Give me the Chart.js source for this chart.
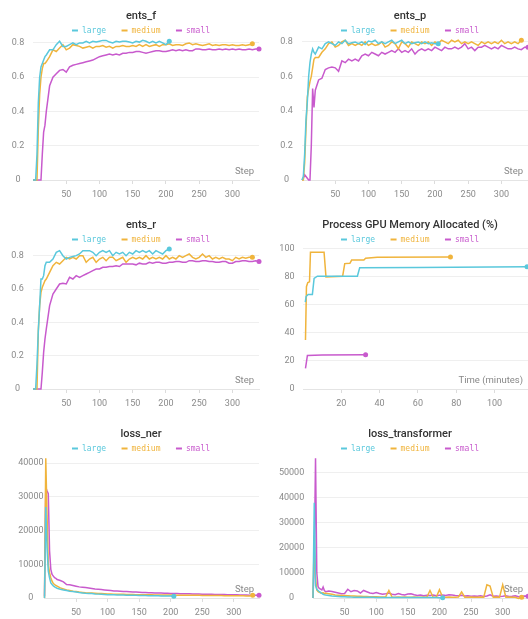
<!DOCTYPE html>
<html>
<head>
<meta charset="utf-8">
<script src="https://cdn.jsdelivr.net/npm/chart.js@4.4.1/dist/chart.umd.min.js"></script>
<style>
html, body { margin: 0; padding: 0; background: #fff; width: 528px; height: 619px; overflow: hidden; }
canvas { position: absolute; }
</style>
</head>
<body>
<canvas id="c_ents_f" width="282" height="205" style="left:0;top:0"></canvas>
<canvas id="c_ents_p" width="292" height="205" style="left:264px;top:0"></canvas>
<canvas id="c_ents_r" width="282" height="205" style="left:0;top:209px"></canvas>
<canvas id="c_gpu" width="292" height="205" style="left:264px;top:209px"></canvas>
<canvas id="c_loss_ner" width="282" height="201" style="left:0;top:418px"></canvas>
<canvas id="c_loss_tr" width="292" height="201" style="left:264px;top:418px"></canvas>
<script>
// logged steps (large stops at 205, medium at 330, small at 340)
var STEPS = [0, 2, 4, 6, 8, 10, 12, 14, 16, 18, 20, 25, 30, 35, 40, 45, 50, 55, 60, 65, 70, 75, 80, 85, 90, 95,
    100, 105, 110, 115, 120, 125, 130, 135, 140, 145, 150, 155, 160, 165, 170, 175, 180, 185, 190, 195,
    200, 205, 210, 215, 220, 225, 230, 235, 240, 245, 250, 255, 260, 265, 270, 275, 280, 285, 290, 295,
    300, 305, 310, 315, 320, 325, 330, 335, 340];

// tick labels
var STEP_TICKS = [50, 100, 150, 200, 250, 300];
var MINUTE_TICKS = [20, 40, 60, 80, 100];
var ENTS_TICKS = [0, 0.2, 0.4, 0.6, 0.8];
var GPU_TICKS = [0, 20, 40, 60, 80, 100];
var LOSS_NER_TICKS = [0, 10000, 20000, 30000, 40000];
var LOSS_TR_TICKS = [0, 10000, 20000, 30000, 40000, 50000];

var ENTS_F_LARGE = [0, 0, 0, 0.15, 0.45, 0.6, 0.66, 0.68, 0.70, 0.72, 0.73,
    0.76, 0.76, 0.79, 0.81, 0.78, 0.78, 0.79, 0.80, 0.79, 0.80,
    0.80, 0.81, 0.80, 0.81, 0.805, 0.81, 0.815, 0.815, 0.805, 0.80,
    0.81, 0.805, 0.81, 0.81, 0.805, 0.80, 0.81, 0.805, 0.815, 0.81,
    0.80, 0.81, 0.80, 0.81, 0.80, 0.79, 0.81];
var ENTS_F_MEDIUM = [0, 0, 0, 0, 0.3, 0.5, 0.6, 0.65, 0.68, 0.68, 0.69,
    0.72, 0.76, 0.75, 0.77, 0.79, 0.76, 0.77, 0.79, 0.785, 0.78,
    0.77, 0.775, 0.78, 0.77, 0.78, 0.78, 0.785, 0.775, 0.78, 0.77,
    0.78, 0.78, 0.785, 0.78, 0.78, 0.785, 0.78, 0.79, 0.78, 0.79,
    0.78, 0.785, 0.79, 0.78, 0.79, 0.79, 0.795, 0.785, 0.79, 0.79,
    0.785, 0.795, 0.80, 0.79, 0.795, 0.79, 0.785, 0.79, 0.795, 0.785,
    0.79, 0.785, 0.79, 0.79, 0.785, 0.79, 0.785, 0.785, 0.79, 0.785,
    0.79, 0.795];
var ENTS_F_SMALL = [0, 0, 0, 0, 0, 0, 0, 0.15, 0.28, 0.32, 0.40,
    0.55, 0.60, 0.62, 0.64, 0.645, 0.63, 0.66, 0.67, 0.675, 0.68,
    0.685, 0.69, 0.695, 0.70, 0.71, 0.72, 0.725, 0.73, 0.735, 0.73,
    0.735, 0.73, 0.74, 0.74, 0.745, 0.745, 0.75, 0.75, 0.745, 0.74,
    0.745, 0.75, 0.755, 0.755, 0.75, 0.75, 0.755, 0.76, 0.755, 0.76,
    0.755, 0.76, 0.755, 0.755, 0.765, 0.765, 0.76, 0.76, 0.765, 0.76,
    0.76, 0.765, 0.76, 0.765, 0.76, 0.765, 0.76, 0.765, 0.76, 0.76,
    0.765, 0.76, 0.765, 0.765];

var ENTS_P_LARGE = [0, 0.02, 0.15, 0.35, 0.45, 0.6, 0.68, 0.73, 0.76, 0.74, 0.73,
    0.77, 0.76, 0.79, 0.80, 0.79, 0.78, 0.80, 0.79, 0.81, 0.79,
    0.795, 0.80, 0.79, 0.80, 0.785, 0.805, 0.80, 0.81, 0.79, 0.80,
    0.79, 0.80, 0.81, 0.79, 0.80, 0.81, 0.79, 0.80, 0.79, 0.795,
    0.80, 0.79, 0.80, 0.79, 0.795, 0.79, 0.79];
var ENTS_P_MEDIUM = [0, 0, 0.1, 0.3, 0.48, 0.53, 0.57, 0.60, 0.65, 0.70, 0.71,
    0.71, 0.74, 0.76, 0.79, 0.80, 0.77, 0.78, 0.80, 0.81, 0.78,
    0.79, 0.78, 0.79, 0.78, 0.80, 0.78, 0.79, 0.78, 0.785, 0.80,
    0.77, 0.78, 0.80, 0.79, 0.76, 0.80, 0.79, 0.77, 0.80, 0.79,
    0.78, 0.80, 0.79, 0.80, 0.78, 0.80, 0.79, 0.81, 0.80, 0.79,
    0.81, 0.80, 0.81, 0.79, 0.80, 0.79, 0.80, 0.79, 0.78, 0.80,
    0.79, 0.80, 0.79, 0.80, 0.79, 0.81, 0.79, 0.80, 0.79, 0.80,
    0.79, 0.81];
var ENTS_P_SMALL = [0, 0.01, 0.03, 0.02, 0.01, 0, 0, 0.2, 0.53, 0.42, 0.52,
    0.58, 0.59, 0.64, 0.65, 0.655, 0.65, 0.63, 0.69, 0.68, 0.70,
    0.69, 0.70, 0.69, 0.72, 0.73, 0.72, 0.74, 0.73, 0.72, 0.74,
    0.73, 0.74, 0.75, 0.74, 0.76, 0.74, 0.75, 0.74, 0.76, 0.73,
    0.75, 0.76, 0.75, 0.76, 0.75, 0.77, 0.76, 0.75, 0.77, 0.76,
    0.76, 0.77, 0.76, 0.77, 0.79, 0.76, 0.77, 0.75, 0.77, 0.77,
    0.78, 0.77, 0.76, 0.77, 0.76, 0.78, 0.77, 0.76, 0.76, 0.77,
    0.76, 0.755, 0.77, 0.77];

var ENTS_R_LARGE = [0, 0, 0, 0.15, 0.35, 0.5, 0.66, 0.66, 0.68, 0.74, 0.76,
    0.76, 0.78, 0.82, 0.83, 0.80, 0.78, 0.79, 0.795, 0.80, 0.81,
    0.83, 0.83, 0.83, 0.82, 0.80, 0.82, 0.83, 0.82, 0.83, 0.80,
    0.82, 0.81, 0.82, 0.80, 0.82, 0.81, 0.83, 0.82, 0.83, 0.82,
    0.83, 0.81, 0.83, 0.82, 0.81, 0.83, 0.84];
var ENTS_R_MEDIUM = [0, 0, 0, 0, 0.35, 0.5, 0.58, 0.61, 0.63, 0.65, 0.66,
    0.70, 0.74, 0.76, 0.75, 0.77, 0.79, 0.78, 0.79, 0.78, 0.80,
    0.80, 0.76, 0.78, 0.79, 0.76, 0.78, 0.79, 0.77, 0.79, 0.79,
    0.77, 0.78, 0.79, 0.76, 0.78, 0.79, 0.78, 0.79, 0.78, 0.80,
    0.78, 0.79, 0.78, 0.79, 0.78, 0.80, 0.78, 0.79, 0.78, 0.80,
    0.79, 0.80, 0.81, 0.79, 0.78, 0.79, 0.81, 0.79, 0.80, 0.78,
    0.79, 0.78, 0.79, 0.78, 0.78, 0.77, 0.79, 0.78, 0.79, 0.785,
    0.79, 0.79];
var ENTS_R_SMALL = [0, 0, 0, 0, 0, 0, 0, 0.1, 0.22, 0.30, 0.36,
    0.50, 0.57, 0.60, 0.63, 0.635, 0.63, 0.67, 0.66, 0.68, 0.67,
    0.68, 0.69, 0.70, 0.71, 0.72, 0.72, 0.73, 0.73, 0.735, 0.735,
    0.74, 0.735, 0.75, 0.75, 0.75, 0.75, 0.745, 0.755, 0.75, 0.75,
    0.76, 0.755, 0.76, 0.76, 0.755, 0.755, 0.76, 0.76, 0.765, 0.765,
    0.76, 0.76, 0.77, 0.77, 0.765, 0.765, 0.77, 0.77, 0.765, 0.765,
    0.76, 0.76, 0.765, 0.765, 0.755, 0.755, 0.765, 0.765, 0.77, 0.77,
    0.765, 0.765, 0.77, 0.765];

var LOSS_NER_LARGE = [0, 27000, 15000, 8000, 6000, 4500, 4000, 3600, 3300, 3100, 2900,
    2600, 2400, 2200, 2000, 1900, 1750, 1600, 1500, 1400, 1350,
    1300, 1200, 1150, 1100, 1050, 1000, 980, 950, 920, 900,
    870, 850, 830, 800, 780, 760, 740, 720, 700, 680,
    660, 640, 620, 600, 580, 560, 550];
var LOSS_NER_MEDIUM = [0, 41500, 25000, 10000, 7500, 6000, 5000, 4300, 4000, 3700, 3500,
    3000, 2700, 2400, 2200, 2000, 1900, 1750, 1650, 1550, 1500,
    1450, 1400, 1350, 1300, 1250, 1200, 1180, 1150, 1120, 1100,
    1080, 1060, 1040, 1020, 1000, 980, 960, 950, 940, 930,
    920, 910, 900, 890, 880, 870, 860, 850, 840, 830,
    820, 810, 800, 790, 780, 770, 760, 750, 740, 730,
    720, 710, 700, 690, 680, 670, 660, 650, 640, 630,
    620, 800];
var LOSS_NER_SMALL = [500, 32800, 31800, 31000, 14000, 8500, 7000, 6500, 6000, 5800, 5500,
    5200, 4800, 4000, 3900, 3700, 3500, 3300, 3200, 3100, 3000,
    2850, 2700, 2600, 2500, 2400, 2300, 2200, 2100, 2050, 2000,
    1950, 1900, 1850, 1800, 1750, 1700, 1650, 1600, 1570, 1540,
    1500, 1480, 1450, 1420, 1400, 1370, 1340, 1310, 1290, 1270,
    1250, 1230, 1210, 1190, 1170, 1150, 1130, 1110, 1090, 1070,
    1050, 1030, 1010, 990, 970, 950, 930, 910, 890, 870,
    850, 830, 810, 790];

var LOSS_TR_LARGE = [0, 38000, 5000, 3500, 3000, 2500, 2200, 1800, 1500, 1300, 1200,
    1000, 800, 700, 600, 500, 450, 400, 350, 330, 300,
    300, 280, 260, 250, 250, 240, 230, 220, 220, 210,
    200, 200, 200, 190, 190, 180, 180, 170, 170, 160,
    160, 160, 150, 150, 150, 140, 100];
var LOSS_TR_MEDIUM = [0, 25000, 8000, 3200, 2500, 2300, 2000, 2000, 2100, 1800, 1900,
    1700, 1500, 1200, 1100, 1000, 1000, 900, 800, 800, 700,
    700, 600, 600, 500, 500, 500, 400, 400, 500, 3000,
    400, 300, 400, 300, 400, 300, 300, 400, 300, 300,
    400, 300, 3000, 300, 400, 3300, 300, 300, 400, 300,
    300, 400, 2400, 300, 300, 400, 300, 300, 400, 300,
    5300, 4800, 300, 400, 300, 5300, 300, 400, 300, 300,
    -200, 300];
var LOSS_TR_SMALL = [0, 15000, 55700, 10000, 4500, 3800, 3500, 3200, 4400, 3000, 2500,
    2800, 2600, 2300, 2000, 1700, 1800, 3500, 2500, 3000, 2800,
    2000, 3000, 2500, 2000, 1800, 2200, 1800, 1500, 1700, 2000,
    1500, 1300, 1800, 1400, 1200, 1600, 1700, 1300, 1000, 1200,
    900, 1100, 1000, 1200, 900, 1100, 1200, 1000, 1300, 1200,
    1000, 900, 1100, 800, 900, 700, 800, 700, 900, 600,
    800, 1300, 700, 800, 600, 700, 900, 600, 700, 900,
    500, 700, 800, 700];

// GPU memory, x in minutes
var GPU_TIME_LARGE = [1.2, 1.6, 2.7, 4.9, 5.8, 7.5, 28.4, 29.6, 60, 117];
var GPU_LARGE = [62, 66, 67.5, 67.5, 79, 80.5, 80.5, 86.5, 86.8, 87.2];
var GPU_TIME_MEDIUM = [1.3, 1.8, 2.5, 3.4, 3.9, 11, 12, 20.7, 21.8, 24.5, 25.4, 31.8, 32.7, 38.8, 77];
var GPU_MEDIUM = [35, 73, 76, 76.5, 97.6, 97.6, 80, 80.5, 89.5, 89.7, 92, 92, 93.3, 94, 94.3];
var GPU_TIME_SMALL = [1.3, 2.3, 10, 32.7];
var GPU_SMALL = [14.8, 24, 24.3, 24.5];

var COLORS = { large: '#5AC8DC', medium: '#F0B43C', small: '#C85ACD' };
var TICK_FONT = { family: 'Roboto', size: 9 };
var TICK_COLOR = '#8a8a8a';

// title, legend and axis label are painted here so they can sit where W&B puts them
var headerPlugin = {
    id: 'header',
    afterDraw: function (chart, args, opts) {
        var ctx = chart.ctx;
        var cx = chart.width / 2;
        ctx.save();
        ctx.textBaseline = 'middle';
        ctx.textAlign = 'center';
        ctx.fillStyle = '#333';
        ctx.font = '500 11px Roboto';
        ctx.fillText(opts.title, cx, 16);

        ctx.font = '8px "DejaVu Sans Mono"';
        var dash = 6, gap = 4, sep = 15.5;
        var items = chart.data.datasets.map(function (d) {
            return { text: d.label, color: d.borderColor, w: ctx.measureText(d.label).width };
        });
        var total = sep * (items.length - 1);
        items.forEach(function (it) { total += dash + gap + it.w; });
        var x = cx - total / 2;
        ctx.textAlign = 'left';
        items.forEach(function (it) {
            ctx.strokeStyle = it.color;
            ctx.lineWidth = 2;
            ctx.beginPath();
            ctx.moveTo(x, 30.5);
            ctx.lineTo(x + dash, 30.5);
            ctx.stroke();
            ctx.fillStyle = it.color;
            ctx.fillText(it.text, x + dash + gap, 30.5);
            x += dash + gap + it.w + sep;
        });

        var a = chart.chartArea;
        ctx.font = '9.5px Roboto';
        ctx.fillStyle = '#888';
        ctx.textAlign = 'right';
        ctx.fillText(opts.axisLabel, a.right - 5, a.bottom - 8);
        ctx.restore();
    }
};

function points(xs, ys) {
    return ys.map(function (v, i) { return { x: xs[i], y: v }; });
}

function fixedTicks(list) {
    return function (sc) {
        sc.ticks = list.map(function (v) { return { value: v }; });
    };
}

function buildChart(id, spec) {
    var canvas = document.getElementById(id);
    var datasets = spec.series.map(function (s) {
        var last = s.y.length - 1;
        return {
            label: s.name,
            data: points(s.x, s.y),
            borderColor: COLORS[s.name],
            backgroundColor: COLORS[s.name],
            borderWidth: 1.5,
            tension: 0,
            clip: false,
            pointRadius: function (c) { return c.dataIndex === last ? 2.5 : 0; },
            pointBorderWidth: 0,
            pointHoverRadius: 0
        };
    });
    return new Chart(canvas, {
        type: 'line',
        data: { datasets: datasets },
        options: {
            responsive: false,
            animation: false,
            events: [],
            layout: { padding: { top: 38.5, right: spec.rightPad, left: 0, bottom: 0 } },
            plugins: {
                legend: { display: false },
                tooltip: { enabled: false },
                header: { title: spec.title, axisLabel: spec.axisLabel }
            },
            scales: {
                x: {
                    type: 'linear',
                    min: 0,
                    max: spec.xMax,
                    afterFit: function (sc) { sc.height = canvas.height - 180; },
                    afterBuildTicks: fixedTicks(spec.xTicks),
                    ticks: { font: TICK_FONT, color: TICK_COLOR, padding: 5, maxRotation: 0, autoSkip: false },
                    grid: { drawOnChartArea: false, drawTicks: true, tickLength: 4, color: '#dcdcdc' },
                    border: { display: true, color: '#e4e4e4' }
                },
                y: {
                    min: 0,
                    max: spec.yMax,
                    afterFit: function (sc) { sc.width = spec.yWidth; },
                    afterBuildTicks: fixedTicks(spec.yTicks),
                    ticks: {
                        padding: spec.yPad,
                        crossAlign: spec.yAlign,
                        font: TICK_FONT,
                        color: TICK_COLOR,
                        autoSkip: false,
                        callback: function (v) { return String(v); }
                    },
                    grid: { color: '#efefef', drawTicks: false },
                    border: { display: false }
                }
            }
        },
        plugins: [headerPlugin]
    });
}

function stepSeries(large, medium, small) {
    return [
        { name: 'large', x: STEPS, y: large },
        { name: 'medium', x: STEPS, y: medium },
        { name: 'small', x: STEPS, y: small }
    ];
}

buildChart('c_ents_f', {
    title: 'ents_f', axisLabel: 'Step', xMax: 340, xTicks: STEP_TICKS, yMax: 0.826, yTicks: ENTS_TICKS,
    yWidth: 33, yPad: 8.8, yAlign: 'center', rightPad: 23,
    series: stepSeries(ENTS_F_LARGE, ENTS_F_MEDIUM, ENTS_F_SMALL)
});
buildChart('c_ents_p', {
    title: 'ents_p', axisLabel: 'Step', xMax: 340, xTicks: STEP_TICKS, yMax: 0.82, yTicks: ENTS_TICKS,
    yWidth: 38, yPad: 9.3, yAlign: 'center', rightPad: 28,
    series: stepSeries(ENTS_P_LARGE, ENTS_P_MEDIUM, ENTS_P_SMALL)
});
buildChart('c_ents_r', {
    title: 'ents_r', axisLabel: 'Step', xMax: 340, xTicks: STEP_TICKS, yMax: 0.849, yTicks: ENTS_TICKS,
    yWidth: 33, yPad: 9.3, yAlign: 'center', rightPad: 23,
    series: stepSeries(ENTS_R_LARGE, ENTS_R_MEDIUM, ENTS_R_SMALL)
});
buildChart('c_gpu', {
    title: 'Process GPU Memory Allocated (%)', axisLabel: 'Time (minutes)', xMax: 117.5, xTicks: MINUTE_TICKS,
    yMax: 101, yTicks: GPU_TICKS, yWidth: 39, yPad: 8.5, yAlign: 'near', rightPad: 28,
    series: [
        { name: 'large', x: GPU_TIME_LARGE, y: GPU_LARGE },
        { name: 'medium', x: GPU_TIME_MEDIUM, y: GPU_MEDIUM },
        { name: 'small', x: GPU_TIME_SMALL, y: GPU_SMALL }
    ]
});
buildChart('c_loss_ner', {
    title: 'loss_ner', axisLabel: 'Step', xMax: 340, xTicks: STEP_TICKS, yMax: 42000, yTicks: LOSS_NER_TICKS,
    yWidth: 44.5, yPad: 1, yAlign: 'center', rightPad: 23,
    series: stepSeries(LOSS_NER_LARGE, LOSS_NER_MEDIUM, LOSS_NER_SMALL)
});
buildChart('c_loss_tr', {
    title: 'loss_transformer', axisLabel: 'Step', xMax: 340, xTicks: STEP_TICKS, yMax: 56400, yTicks: LOSS_TR_TICKS,
    yWidth: 49, yPad: 8.8, yAlign: 'center', rightPad: 28,
    series: stepSeries(LOSS_TR_LARGE, LOSS_TR_MEDIUM, LOSS_TR_SMALL)
});
</script>
</body>
</html>
